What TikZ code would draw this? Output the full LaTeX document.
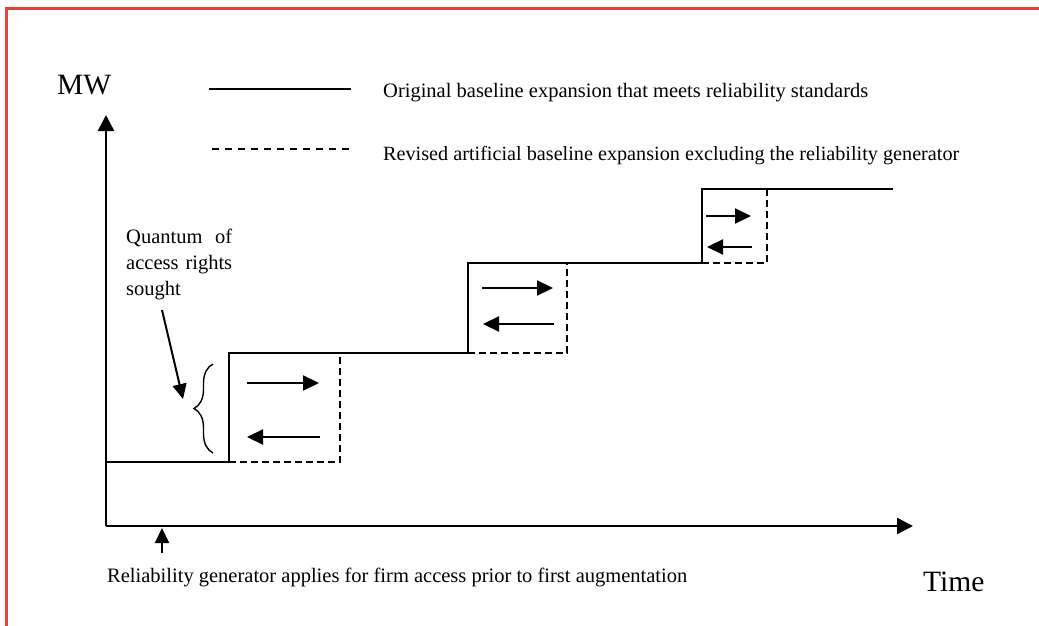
\documentclass[tikz,border=0pt]{standalone}
\usepackage{fontspec}
\setmainfont{Liberation Serif}
\usetikzlibrary{arrows.meta,decorations.pathreplacing}
\definecolor{framered}{RGB}{226,68,58}
\begin{document}
\begin{tikzpicture}[x=1pt,y=-1pt,
  lbl/.style={anchor=base west,inner sep=0pt,font=\fontsize{20.5}{26}\selectfont},
  big/.style={anchor=base west,inner sep=0pt,font=\fontsize{29.5}{34}\selectfont},
  axisline/.style={line width=2.6pt,-{Triangle[length=16pt,width=16pt]}},
  stepline/.style={line width=2pt},
  dashline/.style={line width=1.8pt,dash pattern=on 7pt off 4pt},
  flow/.style={line width=2.2pt,-{Triangle[length=16pt,width=15pt]}},
  pointer/.style={line width=2pt,-{Triangle[length=15pt,width=14pt]}},
]
\useasboundingbox (0,0) rectangle (1039,626);
% frame
\draw[framered,line width=3pt] (6,626) -- (6,9) -- (1039,9);

% axes
\coordinate (O) at (106,526);
\coordinate (ytip) at (106,115);
\coordinate (xtip) at (913,526);
\draw[axisline] (O) -- (ytip);
\draw[axisline] (O) -- (xtip);
\node[big] (mw) at (57,94) {MW};
\node[big] (time) at (923,591) {Time};

% legend
\coordinate (ls1) at (209,89);
\coordinate (le1) at (351,89);
\coordinate (ls2) at (212,149);
\coordinate (le2) at (355,149);
\draw[stepline] (ls1) -- (le1);
\draw[line width=1.8pt,dash pattern=on 7pt off 6pt] (ls2) -- (le2);
\node[lbl] (leg1) at (383,98) {Original baseline expansion that meets reliability standards};
\node[lbl,font=\fontsize{20.2}{26}\selectfont] (leg2) at (383,160) {Revised artificial baseline expansion excluding the reliability generator};

% solid baseline expansion
\coordinate (s0) at (106,462);
\coordinate (s1) at (229,462);
\coordinate (s2) at (229,353);
\coordinate (s3) at (468,353);
\coordinate (s4) at (468,263);
\coordinate (s5) at (702,263);
\coordinate (s6) at (702,189);
\coordinate (s7) at (893,189);
\draw[stepline] (s0) -- (s1) -- (s2) -- (s3) -- (s4) -- (s5) -- (s6) -- (s7);

% dashed revised expansion
\coordinate (d1) at (340,462);
\coordinate (d1t) at (340,353);
\coordinate (d2) at (567,353);
\coordinate (d2t) at (567,263);
\coordinate (d3) at (767,263);
\coordinate (d3t) at (767,189);
\draw[dashline] (s1) -- (d1) -- (d1t);
\draw[dashline] (s3) -- (d2) -- (d2t);
\draw[dashline] (s5) -- (d3) -- (d3t);

% shift arrows
\coordinate (a1l) at (247,383); \coordinate (a1r) at (319,383);
\coordinate (b1r) at (320,437); \coordinate (b1l) at (247,437);
\draw[flow] (a1l) -- (a1r);
\draw[flow] (b1r) -- (b1l);
\coordinate (a2l) at (482,288); \coordinate (a2r) at (553,288);
\coordinate (b2r) at (554,324); \coordinate (b2l) at (483,324);
\draw[flow] (a2l) -- (a2r);
\draw[flow] (b2r) -- (b2l);
\coordinate (a3l) at (706,216); \coordinate (a3r) at (751,216);
\coordinate (b3r) at (752,247); \coordinate (b3l) at (707,247);
\draw[flow] (a3l) -- (a3r);
\draw[flow] (b3r) -- (b3l);

% quantum brace and label
\coordinate (bb) at (213,453);
\coordinate (bt) at (213,364);
\draw[line width=1.4pt,decorate,decoration={brace,amplitude=19pt,aspect=0.5}] (bb) -- (bt);
\node[lbl] (q1) at (126,243) {\makebox[106pt][s]{Quantum of}};
\node[lbl] (q2) at (126,269) {\makebox[106pt][s]{access rights}};
\node[lbl] (q3) at (126,295) {sought};
\coordinate (qs) at (162,310);
\coordinate (qe) at (183,399);
\draw[pointer] (qs) -- (qe);

% reliability generator pointer
\coordinate (rs) at (162,553);
\coordinate (re) at (162,528);
\draw[pointer] (rs) -- (re);
\node[lbl] (rel) at (107,582) {Reliability generator applies for firm access prior to first augmentation};
\end{tikzpicture}
\end{document}
